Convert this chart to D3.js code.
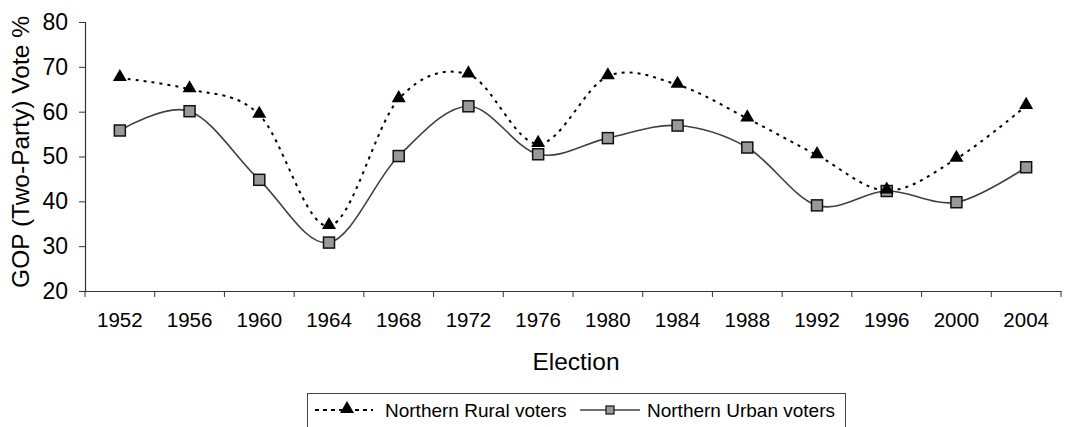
<!DOCTYPE html>
<html>
<head>
<meta charset="utf-8">
<script src="https://cdn.jsdelivr.net/npm/d3@7"></script>
<style>
  body { margin: 0; background: #fff; }
  svg { display: block; font-family: "Liberation Sans", Arial, sans-serif; }
</style>
</head>
<body>
<div id="chart"></div>
<script>
// data
const years = ["1952", "1956", "1960", "1964", "1968", "1972", "1976", "1980", "1984", "1988", "1992", "1996", "2000", "2004"];
const rural = [67.5, 65.0, 59.3, 34.5, 62.8, 68.3, 52.8, 67.9, 66.0, 58.5, 50.3, 42.4, 49.5, 61.3];
const urban = [55.8, 60.1, 44.8, 30.8, 50.1, 61.2, 50.5, 54.1, 56.9, 52.0, 39.1, 42.3, 39.8, 47.6];
const yTicks = [20, 30, 40, 50, 60, 70, 80];

const width = 1073, height = 427;
const margin = { top: 22, right: 12, bottom: 136, left: 85 };

const svg = d3.select("#chart")
  .append("svg")
  .attr("width", width)
  .attr("height", height);

const x = d3.scaleBand()
  .domain(years)
  .range([margin.left, width - margin.right]);

const y = d3.scaleLinear()
  .domain([20, 80])
  .range([height - margin.bottom, margin.top]);

// axes
const xAxis = d3.axisBottom(x).tickSize(0).tickPadding(0);
const gx = svg.append("g")
  .attr("transform", `translate(0,${y(20)})`)
  .call(xAxis);
gx.select(".domain").attr("stroke", "#333").attr("stroke-width", 1.2);
gx.selectAll("text")
  .attr("y", 36)
  .attr("dy", 0)
  .attr("font-size", 20.5)
  .attr("fill", "#000");
// Excel style ticks between categories
gx.selectAll(".sep")
  .data(years.concat(["end"]))
  .enter()
  .append("line")
  .attr("x1", (d, i) => margin.left + i * x.step())
  .attr("x2", (d, i) => margin.left + i * x.step())
  .attr("y1", 0)
  .attr("y2", 6)
  .attr("stroke", "#333");

const yAxis = d3.axisLeft(y).tickValues(yTicks).tickSize(6).tickPadding(11);
const gy = svg.append("g")
  .attr("transform", `translate(${margin.left},0)`)
  .call(yAxis);
gy.select(".domain").attr("stroke", "#333").attr("stroke-width", 1.2);
gy.selectAll(".tick line").attr("stroke", "#333");
gy.selectAll("text").attr("font-size", 23).attr("fill", "#000");

// axis titles
svg.append("text")
  .attr("x", 576)
  .attr("y", 370)
  .attr("text-anchor", "middle")
  .attr("font-size", 24.5)
  .text("Election");

svg.append("text")
  .attr("transform", "translate(29,152) rotate(-90)")
  .attr("text-anchor", "middle")
  .attr("font-size", 24.5)
  .text("GOP (Two-Party) Vote %");

// lines
const line = d3.line()
  .x((d, i) => x(years[i]) + x.bandwidth() / 2)
  .y(d => y(d))
  .curve(d3.curveCatmullRom.alpha(0));

svg.append("path")
  .datum(urban)
  .attr("d", line)
  .attr("fill", "none")
  .attr("stroke", "#404040")
  .attr("stroke-width", 1.6);

svg.append("path")
  .datum(rural)
  .attr("d", line)
  .attr("fill", "none")
  .attr("stroke", "#000")
  .attr("stroke-width", 2)
  .attr("stroke-dasharray", "3,5");

// markers
const tri = d3.symbol().type(d3.symbolTriangle).size(85);

svg.selectAll(".sq")
  .data(urban)
  .enter()
  .append("rect")
  .attr("x", (d, i) => x(years[i]) + x.bandwidth() / 2 - 5.5)
  .attr("y", d => y(d) - 5.5)
  .attr("width", 11)
  .attr("height", 11)
  .attr("fill", "#999")
  .attr("stroke", "#111")
  .attr("stroke-width", 1.5);

svg.selectAll(".tri")
  .data(rural)
  .enter()
  .append("path")
  .attr("d", tri)
  .attr("transform", (d, i) => `translate(${x(years[i]) + x.bandwidth() / 2},${y(d) - 1})`)
  .attr("fill", "#000");

// legend
const lg = svg.append("g");
lg.append("rect")
  .attr("x", 307.5)
  .attr("y", 393.5)
  .attr("width", 538)
  .attr("height", 40)
  .attr("fill", "#fff")
  .attr("stroke", "#444");

lg.append("line")
  .attr("x1", 315).attr("x2", 373)
  .attr("y1", 410).attr("y2", 410)
  .attr("stroke", "#000").attr("stroke-width", 2)
  .attr("stroke-dasharray", "4,4");
lg.append("path")
  .attr("d", tri)
  .attr("transform", "translate(347,409)")
  .attr("fill", "#000");
lg.append("text")
  .attr("x", 385).attr("y", 417)
  .attr("font-size", 19)
  .text("Northern Rural voters");

lg.append("line")
  .attr("x1", 580).attr("x2", 640)
  .attr("y1", 410).attr("y2", 410)
  .attr("stroke", "#404040").attr("stroke-width", 1.6);
lg.append("rect")
  .attr("x", 606).attr("y", 406)
  .attr("width", 8).attr("height", 8)
  .attr("fill", "#999")
  .attr("stroke", "#111")
  .attr("stroke-width", 1.2);
lg.append("text")
  .attr("x", 647).attr("y", 417)
  .attr("font-size", 19)
  .text("Northern Urban voters");
</script>
</body>
</html>
